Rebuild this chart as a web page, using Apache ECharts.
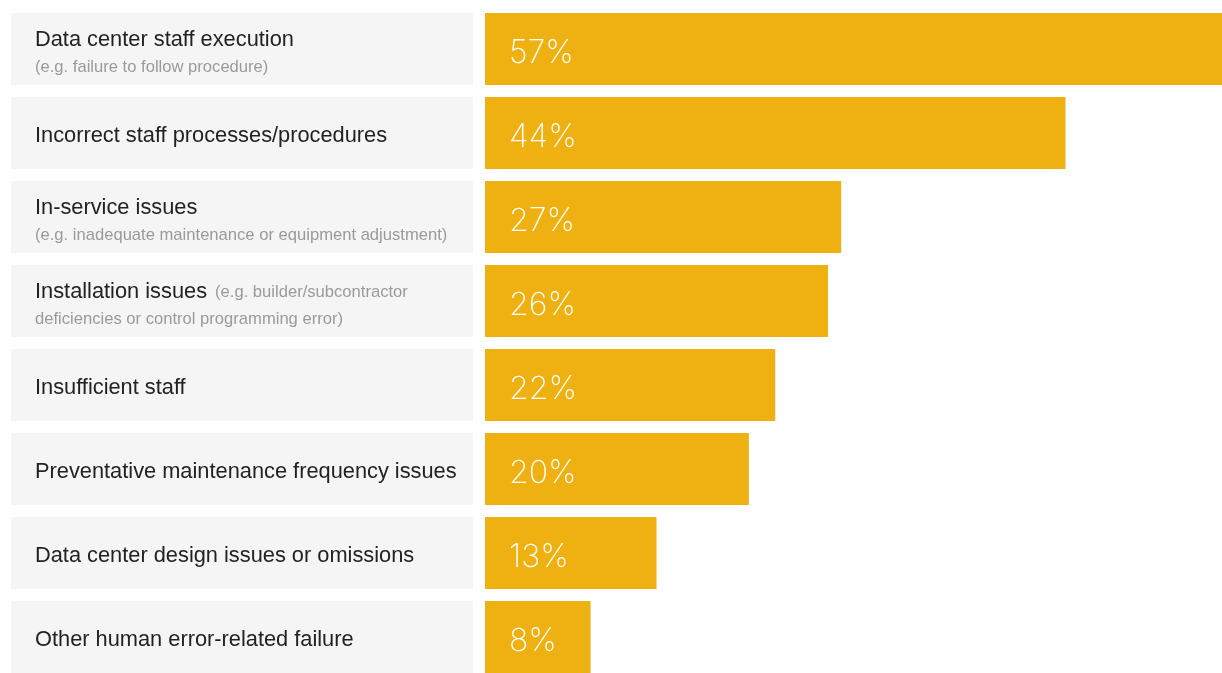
<!DOCTYPE html>
<html>
<head>
<meta charset="utf-8">
<script src="https://cdn.jsdelivr.net/npm/echarts@6/dist/echarts.min.js"></script>
<style>
html, body { margin: 0; padding: 0; background: #fff; }
#content { width: 1222px; height: 673px; }
</style>
</head>
<body>
<div id="content"></div>
<script>
var categories = [
    'Data center staff execution',
    'Incorrect staff processes/procedures',
    'In-service issues',
    'Installation issues',
    'Insufficient staff',
    'Preventative maintenance frequency issues',
    'Data center design issues or omissions',
    'Other human error-related failure'
];
var notes = [
    '(e.g. failure to follow procedure)',
    '',
    '(e.g. inadequate maintenance or equipment adjustment)',
    '(e.g. builder/subcontractor\ndeficiencies or control programming error)',
    '',
    '',
    '',
    ''
];
var values = [57, 44, 27, 26, 22, 20, 13, 8];

var myChart = echarts.init(document.getElementById('content'), null, {renderer: 'canvas'});

// 标签框用满格的灰色条
var boxes = categories.map(function () { return 1; });

function labelText(p) {
    var i = p.dataIndex;
    var note = notes[i];
    if (!note) return '{a|' + categories[i] + '}';
    if (note.indexOf('\n') >= 0) {
        var parts = note.split('\n');
        return '{a|' + categories[i] + '}{s|}{b|' + parts[0] + '}\n{b|' + parts[1] + '}';
    }
    return '{a|' + categories[i] + '}\n{b|' + note + '}';
}

var font = "'Helvetica Neue', 'Liberation Sans', Arial, sans-serif";

var option = {
    animation: false,
    grid: [
        {left: 11, width: 462, top: 7, height: 672, outerBoundsMode: 'none'},
        {left: 485, right: -15, top: 7, height: 672, outerBoundsMode: 'none'}
    ],
    xAxis: [
        {gridIndex: 0, type: 'value', min: 0, max: 1, show: false},
        {gridIndex: 1, type: 'value', min: 0, max: 57, show: false}
    ],
    yAxis: [
        {gridIndex: 0, type: 'category', data: categories, inverse: true, show: false},
        {gridIndex: 1, type: 'category', data: categories, inverse: true, show: false}
    ],
    series: [
        {
            type: 'bar',
            xAxisIndex: 0,
            yAxisIndex: 0,
            data: boxes,
            barWidth: 72,
            itemStyle: {color: '#f5f5f5'},
            silent: true,
            label: {
                show: true,
                position: 'insideLeft',
                distance: 24,
                offset: [0, 3],
                formatter: labelText,
                fontFamily: font,
                rich: {
                    a: {fontSize: 21.8, color: '#222222', lineHeight: 30, fontFamily: font},
                    b: {fontSize: 16.6, color: '#9a9a9a', lineHeight: 24, fontFamily: font},
                    s: {width: 8}
                }
            }
        },
        {
            type: 'bar',
            xAxisIndex: 1,
            yAxisIndex: 1,
            data: values,
            barWidth: 72,
            itemStyle: {color: '#efb112'},
            label: {
                show: true,
                position: 'insideLeft',
                distance: 24,
                offset: [0, 4],
                formatter: '{c}%',
                color: '#ffffff',
                fontSize: 32,
                fontWeight: 200,
                fontFamily: "Inter, Roboto, sans-serif"
            }
        }
    ]
};

myChart.setOption(option);
</script>
</body>
</html>
